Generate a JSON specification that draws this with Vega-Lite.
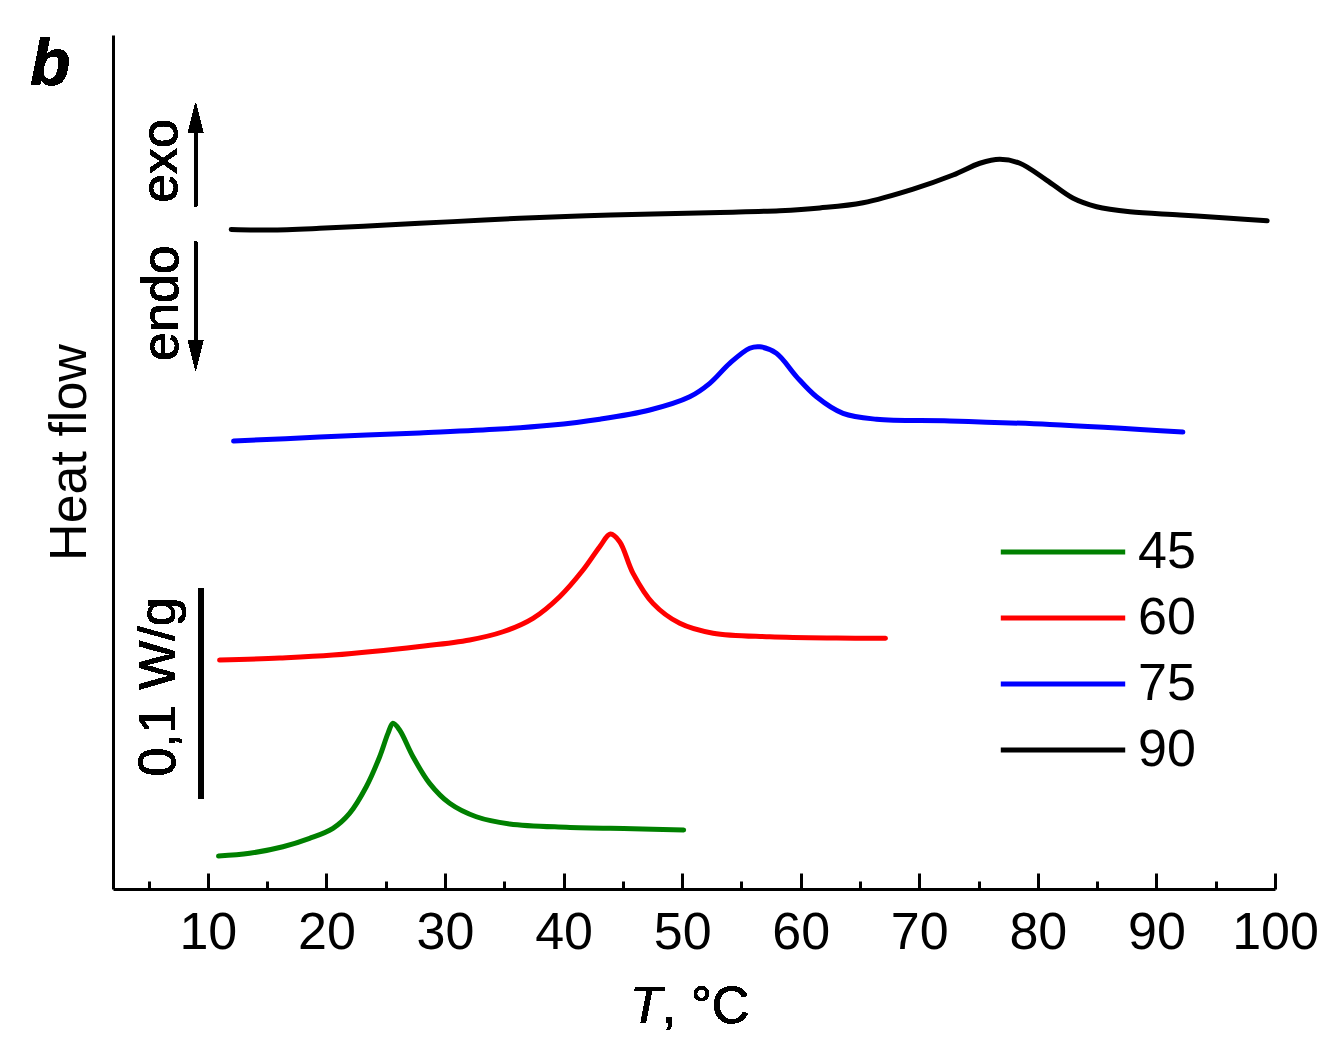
{
  "$schema": "https://vega.github.io/schema/vega-lite/v6.json",
  "width": 1162,
  "height": 854,
  "autosize": {"type": "none"},
  "padding": {"left": 113, "top": 35, "right": 58, "bottom": 164},
  "background": "white",
  "config": {"view": {"stroke": null}, "font": "Liberation Sans"},
  "data": {"values": [
    {"T": 10.90, "hf": 0.0157, "rate": "45"},
    {"T": 13.52, "hf": 0.0170, "rate": "45"},
    {"T": 16.33, "hf": 0.0201, "rate": "45"},
    {"T": 18.58, "hf": 0.0241, "rate": "45"},
    {"T": 20.55, "hf": 0.0289, "rate": "45"},
    {"T": 21.95, "hf": 0.0360, "rate": "45"},
    {"T": 23.36, "hf": 0.0487, "rate": "45"},
    {"T": 24.49, "hf": 0.0630, "rate": "45"},
    {"T": 25.19, "hf": 0.0741, "rate": "45"},
    {"T": 25.61, "hf": 0.0789, "rate": "45"},
    {"T": 26.17, "hf": 0.0757, "rate": "45"},
    {"T": 27.30, "hf": 0.0630, "rate": "45"},
    {"T": 28.70, "hf": 0.0503, "rate": "45"},
    {"T": 30.39, "hf": 0.0408, "rate": "45"},
    {"T": 32.64, "hf": 0.0344, "rate": "45"},
    {"T": 35.45, "hf": 0.0310, "rate": "45"},
    {"T": 40.24, "hf": 0.0294, "rate": "45"},
    {"T": 45.86, "hf": 0.0287, "rate": "45"},
    {"T": 50.13, "hf": 0.0281, "rate": "45"},
    {"T": 10.99, "hf": 0.1090, "rate": "60"},
    {"T": 16.05, "hf": 0.1100, "rate": "60"},
    {"T": 20.55, "hf": 0.1114, "rate": "60"},
    {"T": 27.86, "hf": 0.1155, "rate": "60"},
    {"T": 32.08, "hf": 0.1186, "rate": "60"},
    {"T": 34.89, "hf": 0.1225, "rate": "60"},
    {"T": 37.42, "hf": 0.1289, "rate": "60"},
    {"T": 39.67, "hf": 0.1392, "rate": "60"},
    {"T": 41.64, "hf": 0.1519, "rate": "60"},
    {"T": 43.05, "hf": 0.1630, "rate": "60"},
    {"T": 43.95, "hf": 0.1690, "rate": "60"},
    {"T": 44.73, "hf": 0.1654, "rate": "60"},
    {"T": 45.86, "hf": 0.1503, "rate": "60"},
    {"T": 47.54, "hf": 0.1360, "rate": "60"},
    {"T": 49.80, "hf": 0.1265, "rate": "60"},
    {"T": 52.61, "hf": 0.1218, "rate": "60"},
    {"T": 57.39, "hf": 0.1201, "rate": "60"},
    {"T": 63.02, "hf": 0.1195, "rate": "60"},
    {"T": 67.15, "hf": 0.1194, "rate": "60"},
    {"T": 12.17, "hf": 0.2133, "rate": "75"},
    {"T": 19.42, "hf": 0.2152, "rate": "75"},
    {"T": 27.86, "hf": 0.2172, "rate": "75"},
    {"T": 34.61, "hf": 0.2190, "rate": "75"},
    {"T": 38.83, "hf": 0.2208, "rate": "75"},
    {"T": 43.05, "hf": 0.2237, "rate": "75"},
    {"T": 47.27, "hf": 0.2281, "rate": "75"},
    {"T": 50.64, "hf": 0.2344, "rate": "75"},
    {"T": 52.33, "hf": 0.2408, "rate": "75"},
    {"T": 54.01, "hf": 0.2503, "rate": "75"},
    {"T": 55.70, "hf": 0.2575, "rate": "75"},
    {"T": 56.55, "hf": 0.2582, "rate": "75"},
    {"T": 57.95, "hf": 0.2551, "rate": "75"},
    {"T": 59.64, "hf": 0.2440, "rate": "75"},
    {"T": 61.33, "hf": 0.2344, "rate": "75"},
    {"T": 63.57, "hf": 0.2265, "rate": "75"},
    {"T": 66.39, "hf": 0.2237, "rate": "75"},
    {"T": 72.57, "hf": 0.2229, "rate": "75"},
    {"T": 81.01, "hf": 0.2212, "rate": "75"},
    {"T": 92.23, "hf": 0.2176, "rate": "75"},
    {"T": 11.97, "hf": 0.3141, "rate": "90"},
    {"T": 15.21, "hf": 0.3138, "rate": "90"},
    {"T": 19.42, "hf": 0.3146, "rate": "90"},
    {"T": 25.05, "hf": 0.3162, "rate": "90"},
    {"T": 30.67, "hf": 0.3178, "rate": "90"},
    {"T": 36.30, "hf": 0.3194, "rate": "90"},
    {"T": 41.92, "hf": 0.3206, "rate": "90"},
    {"T": 47.54, "hf": 0.3214, "rate": "90"},
    {"T": 53.17, "hf": 0.3222, "rate": "90"},
    {"T": 58.23, "hf": 0.3230, "rate": "90"},
    {"T": 61.61, "hf": 0.3243, "rate": "90"},
    {"T": 65.26, "hf": 0.3268, "rate": "90"},
    {"T": 69.48, "hf": 0.3333, "rate": "90"},
    {"T": 72.85, "hf": 0.3400, "rate": "90"},
    {"T": 75.11, "hf": 0.3456, "rate": "90"},
    {"T": 76.79, "hf": 0.3475, "rate": "90"},
    {"T": 78.48, "hf": 0.3456, "rate": "90"},
    {"T": 80.73, "hf": 0.3376, "rate": "90"},
    {"T": 82.98, "hf": 0.3289, "rate": "90"},
    {"T": 84.95, "hf": 0.3249, "rate": "90"},
    {"T": 87.76, "hf": 0.3225, "rate": "90"},
    {"T": 91.98, "hf": 0.3210, "rate": "90"},
    {"T": 96.20, "hf": 0.3194, "rate": "90"},
    {"T": 99.34, "hf": 0.3182, "rate": "90"}
  ]},
  "layer": [
    {
      "mark": {"type": "line", "interpolate": "catmull-rom", "strokeWidth": 5, "strokeCap": "round", "strokeJoin": "round"},
      "encoding": {
        "x": {
          "field": "T", "type": "quantitative",
          "scale": {"domain": [2, 100], "nice": false, "zero": false},
          "axis": {
            "title": null,
            "values": [5, 10, 15, 20, 25, 30, 35, 40, 45, 50, 55, 60, 65, 70, 75, 80, 85, 90, 95, 100],
            "labelExpr": "datum.value % 10 === 0 ? datum.label : ''",
            "tickSize": {"condition": {"test": "datum.value % 10 === 0", "value": -16}, "value": -8},
            "tickWidth": 3, "tickColor": "black",
            "domainWidth": 3, "domainColor": "black",
            "labelFontSize": 52, "labelFont": "Liberation Sans", "labelColor": "black",
            "labelPadding": 34, "labelFlush": false, "labelOverlap": false, "grid": false
          }
        },
        "y": {
          "field": "hf", "type": "quantitative",
          "scale": {"domain": [0, 0.40667], "nice": false, "zero": false},
          "axis": {
            "title": "Heat flow", "titleFont": "Liberation Sans", "titleFontSize": 52,
            "titleFontWeight": "normal", "titleColor": "black",
            "titleX": -28, "titleY": 417, "titleAngle": 270, "titleAlign": "center", "titleBaseline": "alphabetic",
            "ticks": false, "labels": false, "domainWidth": 3, "domainColor": "black", "grid": false
          }
        },
        "color": {
          "field": "rate", "type": "nominal",
          "scale": {"domain": ["45", "60", "75", "90"], "range": ["#008000", "#ff0000", "#0000ff", "#000000"]},
          "legend": {
            "title": null, "orient": "none", "legendX": 924, "legendY": 491,
            "symbolType": "M-6,0H6", "symbolSize": 430, "symbolStrokeWidth": 5,
            "labelFontSize": 52, "labelFont": "Liberation Sans", "labelColor": "black",
            "labelOffset": 49, "rowPadding": 14, "padding": 0, "labelBaseline": "middle"
          }
        }
      }
    },
    {
      "mark": {"type": "rule", "strokeWidth": 5, "color": "black"},
      "encoding": {"x": {"datum": 9.42}, "y": {"datum": 0.0429}, "y2": {"datum": 0.1433}}
    },
    {
      "mark": {"type": "rule", "strokeWidth": 3, "color": "black"},
      "encoding": {"x": {"datum": 8.97}, "y": {"datum": 0.3252}, "y2": {"datum": 0.362}}
    },
    {
      "mark": {"type": "rule", "strokeWidth": 3, "color": "black"},
      "encoding": {"x": {"datum": 8.97}, "y": {"datum": 0.3082}, "y2": {"datum": 0.259}}
    },
    {
      "mark": {"type": "point", "shape": "M0,-1L0.5,1L-0.5,1Z", "size": 900, "filled": true, "opacity": 1, "color": "black", "strokeWidth": 0},
      "encoding": {"x": {"datum": 8.97}, "y": {"datum": 0.3671}}
    },
    {
      "mark": {"type": "point", "shape": "M0,1L0.5,-1L-0.5,-1Z", "size": 900, "filled": true, "opacity": 1, "color": "black", "strokeWidth": 0},
      "encoding": {"x": {"datum": 8.97}, "y": {"datum": 0.254}}
    },
    {
      "mark": {"type": "text", "text": "0,1 W/g", "font": "Liberation Sans", "fontSize": 52, "angle": 270, "align": "center", "baseline": "alphabetic", "color": "black"},
      "encoding": {"x": {"datum": 7.23}, "y": {"datum": 0.0962}}
    },
    {
      "mark": {"type": "text", "text": "exo", "font": "Liberation Sans", "fontSize": 52, "angle": 270, "align": "center", "baseline": "alphabetic", "color": "black"},
      "encoding": {"x": {"datum": 7.37}, "y": {"datum": 0.3467}}
    },
    {
      "mark": {"type": "text", "text": "endo", "font": "Liberation Sans", "fontSize": 52, "angle": 270, "align": "center", "baseline": "alphabetic", "color": "black"},
      "encoding": {"x": {"datum": 7.48}, "y": {"datum": 0.279}}
    },
    {
      "mark": {"type": "text", "text": "b", "font": "Liberation Sans", "fontSize": 66, "fontWeight": "bold", "fontStyle": "italic", "align": "left", "baseline": "alphabetic", "color": "black"},
      "encoding": {"x": {"datum": -5.0}, "y": {"datum": 0.3829}}
    },
    {
      "mark": {"type": "text", "text": "T", "font": "Liberation Sans", "fontSize": 52, "fontStyle": "italic", "align": "left", "baseline": "alphabetic", "color": "black"},
      "encoding": {"x": {"datum": 45.6}, "y": {"datum": -0.064}}
    },
    {
      "mark": {"type": "text", "text": ", °C", "font": "Liberation Sans", "fontSize": 52, "align": "left", "baseline": "alphabetic", "color": "black"},
      "encoding": {"x": {"datum": 48.3}, "y": {"datum": -0.064}}
    }
  ]
}
